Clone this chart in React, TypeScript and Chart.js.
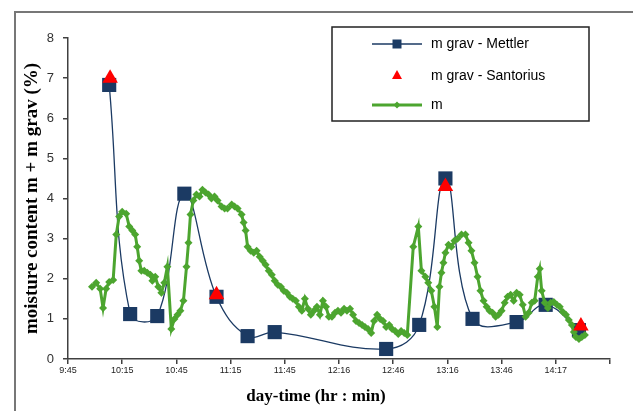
import React, { useEffect, useRef } from "react";
import { Chart, registerables } from "chart.js";

Chart.register(...registerables);

// x values are minutes after 9:45; one x-axis step = 30 min
const xTickLabels = ["9:45", "10:15", "10:45", "11:15", "11:45", "12:16", "12:46", "13:16", "13:46", "14:17", ""];
const xAxisTitle = "day-time (hr : min)";
const yAxisTitle = "moisture content m + m grav (%)";

const seriesNames = ["m grav - Mettler", "m grav - Santorius", "m"];

const mettlerTime = [22.8, 34.4, 49.4, 64.4, 82.2, 99.4, 114.4, 176.1, 194.4, 208.9, 223.9, 248.3, 264.4, 282.8];
const mettlerValue = [6.83, 1.12, 1.07, 4.12, 1.55, 0.57, 0.67, 0.25, 0.85, 4.5, 1.0, 0.92, 1.35, 0.72];

const santoriusTime = [23.3, 82.2, 208.9, 283.9];
const santoriusValue = [7.0, 1.6, 4.3, 0.82];

const mTime = [
  13.3, 15.6, 17.8, 19.4, 21.1, 22.8, 25.0, 26.7, 28.3, 30.0, 32.2, 33.9, 35.6, 37.2, 38.3, 39.4, 40.6, 42.2, 43.9, 45.6,
  46.7, 48.3, 50.0, 51.7, 53.3, 55.0, 57.2, 58.9, 60.6, 62.2, 63.9, 65.6, 66.7, 67.8, 69.4, 71.1, 72.8, 74.4, 76.1, 77.8,
  79.4, 81.1, 82.8, 85.0, 86.7, 88.3, 90.6, 92.2, 93.9, 96.1, 97.2, 98.3, 99.4, 101.1, 102.8, 104.4, 106.1, 107.8, 109.4, 111.1,
  112.8, 114.4, 116.1, 117.8, 119.4, 121.1, 122.8, 124.4, 126.1, 127.8, 129.4, 131.1, 132.8, 134.4, 136.1, 137.8, 139.4, 141.1, 142.8, 144.4,
  146.1, 147.8, 149.4, 151.1, 152.8, 154.4, 156.1, 157.8, 159.4, 161.1, 162.8, 164.4, 166.1, 167.8, 169.4, 171.1, 172.8, 174.4, 176.1, 177.8,
  179.4, 181.1, 182.8, 184.4, 186.1, 187.8, 191.1, 193.9, 195.6, 197.8, 199.4, 201.1, 202.8, 204.4, 205.6, 206.7, 207.8, 208.9, 210.6, 212.2,
  213.9, 215.6, 217.8, 220.0, 221.7, 223.3, 225.0, 226.7, 228.3, 230.0, 231.7, 233.3, 235.0, 236.7, 238.3, 240.0, 241.7, 243.3, 245.0, 246.7,
  248.3, 250.0, 251.7, 253.3, 255.0, 256.7, 258.3, 260.0, 261.1, 262.2, 263.9, 265.6, 267.2, 268.9, 270.6, 272.2, 273.9, 275.6, 277.2, 278.9,
  280.0, 281.1, 282.8, 284.4, 286.1,
];
const mValue = [
  1.8, 1.9, 1.75, 1.27, 1.75, 1.92, 1.97, 3.1, 3.55, 3.67, 3.62, 3.3, 3.2, 3.1, 2.8, 2.45, 2.2, 2.2, 2.15, 2.1,
  1.95, 2.05, 1.8, 1.65, 1.9, 2.3, 0.75, 1.0, 1.1, 1.2, 1.45, 2.3, 2.9, 3.6, 3.95, 4.1, 4.05, 4.22, 4.15, 4.1,
  4.0, 4.05, 3.95, 3.8, 3.75, 3.75, 3.85, 3.8, 3.75, 3.6, 3.4, 3.2, 2.8, 2.7, 2.65, 2.7, 2.55, 2.45, 2.35, 2.2,
  2.1, 1.95, 1.85, 1.8, 1.7, 1.65, 1.55, 1.5, 1.45, 1.3, 1.2, 1.5, 1.25, 1.1, 1.2, 1.3, 1.1, 1.45, 1.3, 1.05,
  1.05, 1.15, 1.2, 1.15, 1.25, 1.2, 1.25, 1.1, 0.95, 0.9, 0.85, 0.8, 0.75, 0.65, 0.95, 1.1, 1.0, 0.95, 0.8, 0.85,
  0.75, 0.7, 0.62, 0.7, 0.65, 0.6, 2.8, 3.3, 2.2, 2.05, 1.9, 1.7, 1.3, 0.8, 1.8, 2.15, 2.4, 2.65, 2.85, 2.8,
  2.95, 3.0, 3.1, 3.1, 2.9, 2.7, 2.4, 2.05, 1.7, 1.45, 1.3, 1.2, 1.15, 1.05, 1.1, 1.2, 1.4, 1.55, 1.6, 1.45,
  1.65, 1.6, 1.35, 1.05, 1.15, 1.4, 1.45, 2.05, 2.25, 1.7, 1.4, 1.27, 1.4, 1.42, 1.35, 1.3, 1.17, 1.1, 0.97, 0.85,
  0.67, 0.55, 0.5, 0.55, 0.6,
];

const NAVY = "#1b3a63";
const RED = "#ff0000";
const GREEN = "#4ca52f";
const AXIS = "#404040";
const SERIF = "'Liberation Serif', 'Times New Roman', serif";
const SANS = "'Liberation Sans', Arial, sans-serif";

const pairs = (xs: number[], ys: number[]) => xs.map((x, i) => ({ x, y: ys[i] }));

const boxLegend = {
  id: "boxLegend",
  afterDraw(chart: any) {
    const ctx: CanvasRenderingContext2D = chart.ctx;
    ctx.save();
    // x-axis title, centred on the whole figure
    ctx.fillStyle = "#000";
    ctx.font = `bold 17px ${SERIF}`;
    ctx.textAlign = "center";
    ctx.textBaseline = "middle";
    ctx.fillText(xAxisTitle, 316, 397);

    // boxed legend inside the plot area
    const x0 = 332, y0 = 27, w = 257, h = 94;
    ctx.fillStyle = "#ffffff";
    ctx.fillRect(x0, y0, w, h);
    ctx.strokeStyle = "#222";
    ctx.lineWidth = 1.5;
    ctx.strokeRect(x0, y0, w, h);
    const rows = [44, 76, 105];
    const cx = 397;
    chart.data.datasets.forEach((ds: any, i: number) => {
      const y = rows[i];
      if (ds.showLine !== false) {
        ctx.strokeStyle = ds.borderColor;
        ctx.lineWidth = ds.borderWidth;
        ctx.beginPath();
        ctx.moveTo(372, y);
        ctx.lineTo(422, y);
        ctx.stroke();
      }
      ctx.fillStyle = ds.pointBackgroundColor;
      ctx.beginPath();
      if (ds.pointStyle === "rect") {
        ctx.rect(cx - 4.5, y - 4.5, 9, 9);
      } else if (ds.pointStyle === "triangle") {
        ctx.moveTo(cx, y - 6);
        ctx.lineTo(cx + 5, y + 3);
        ctx.lineTo(cx - 5, y + 3);
        ctx.closePath();
      } else {
        ctx.moveTo(cx, y - 3.5);
        ctx.lineTo(cx + 3.5, y);
        ctx.lineTo(cx, y + 3.5);
        ctx.lineTo(cx - 3.5, y);
        ctx.closePath();
      }
      ctx.fill();
      ctx.fillStyle = "#000";
      ctx.font = `14px ${SANS}`;
      ctx.textBaseline = "middle";
      ctx.textAlign = "left";
      ctx.fillText(ds.label, 431, y);
    });
    ctx.restore();
  },
};

export default function App() {
  const ref = useRef<HTMLCanvasElement | null>(null);

  useEffect(() => {
    if (!ref.current) return;
    const chart = new Chart(ref.current, {
      type: "line",
      data: {
        datasets: [
          {
            label: seriesNames[0],
            data: pairs(mettlerTime, mettlerValue),
            borderColor: NAVY,
            backgroundColor: NAVY,
            borderWidth: 1.3,
            tension: 0.4,
            pointStyle: "rect",
            pointRadius: 10,
            pointBackgroundColor: NAVY,
            pointBorderColor: NAVY,
            pointBorderWidth: 0,
            order: 2,
          },
          {
            label: seriesNames[1],
            data: pairs(santoriusTime, santoriusValue),
            showLine: false,
            borderColor: RED,
            backgroundColor: RED,
            borderWidth: 0,
            pointStyle: "triangle",
            pointRadius: 9,
            pointBackgroundColor: RED,
            pointBorderColor: RED,
            pointBorderWidth: 0,
            order: 0,
          },
          {
            label: seriesNames[2],
            data: pairs(mTime, mValue),
            borderColor: GREEN,
            backgroundColor: GREEN,
            borderWidth: 3,
            tension: 0,
            pointStyle: "rectRot",
            pointRadius: 4,
            pointBackgroundColor: GREEN,
            pointBorderColor: GREEN,
            pointBorderWidth: 0,
            order: 1,
          },
        ],
      },
      options: {
        animation: false,
        responsive: false,
        maintainAspectRatio: false,
        layout: { padding: { left: 22, right: 23, top: 38, bottom: 4 } },
        plugins: {
          legend: { display: false },
          tooltip: { enabled: false },
        },
        scales: {
          x: {
            type: "linear",
            min: 0,
            max: 300,
            afterFit: (s: any) => {
              s.height = 48;
            },
            afterBuildTicks: (s: any) => {
              s.ticks = xTickLabels.map((_, i) => ({ value: i * 30 }));
            },
            ticks: {
              autoSkip: false,
              maxRotation: 0,
              padding: 1,
              color: "#222",
              font: { family: SANS, size: 9 },
              callback: (v: any) => xTickLabels[Math.round(Number(v) / 30)] ?? "",
            },
            grid: {
              display: true,
              drawOnChartArea: false,
              drawTicks: true,
              tickLength: 5,
              color: AXIS,
              lineWidth: 1.5,
            },
            border: { display: true, color: AXIS, width: 1.5 },
            title: { display: false, text: xAxisTitle },
          },
          y: {
            min: 0,
            max: 8,
            afterFit: (s: any) => {
              s.width = 46;
            },
            ticks: {
              stepSize: 1,
              padding: 9,
              color: "#333",
              font: { family: SANS, size: 13 },
            },
            grid: {
              display: true,
              drawOnChartArea: false,
              drawTicks: true,
              tickLength: 5,
              color: AXIS,
              lineWidth: 1.5,
            },
            border: { display: true, color: AXIS, width: 1.5 },
            title: {
              display: true,
              text: yAxisTitle,
              color: "#000",
              padding: { top: 0, bottom: 0 },
              font: { family: SERIF, size: 19, weight: "bold", lineHeight: 1.1 },
            },
          },
        },
      } as any,
      plugins: [boxLegend],
    });
    return () => chart.destroy();
  }, []);

  return (
    <div
      style={{
        position: "fixed",
        left: 0,
        top: 0,
        width: 633,
        height: 411,
        overflow: "hidden",
        background: "#fff",
      }}
    >
      <div
        style={{
          position: "absolute",
          left: 14,
          top: 11,
          width: 700,
          height: 500,
          border: "2px solid #777",
        }}
      />
      <canvas ref={ref} width={633} height={411} style={{ position: "absolute", left: 0, top: 0 }} />
    </div>
  );
}
